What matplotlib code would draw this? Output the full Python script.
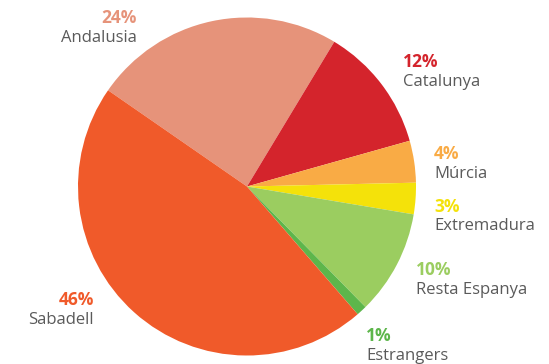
import matplotlib.pyplot as plt

# origin of respondents, clockwise from the top-left
regions = ['Andalusia', 'Catalunya', 'Múrcia', 'Extremadura',
           'Resta Espanya', 'Estrangers', 'Sabadell']
shares = [24, 12, 4, 3, 10, 1, 46]
colors = ['#E6937A', '#D4242C', '#F9AB45', '#F4E20A',
          '#9BCD60', '#5DB64B', '#F05A2A']

# label anchors in pixels (x, y of the percentage line), plus alignment
label_pos = [(137, 18, 'right'), (403, 62, 'left'), (434, 154, 'left'),
             (434, 207, 'left'), (416, 270, 'left'), (366, 336, 'left'),
             (94, 300, 'right')]

W, H = 549, 364
cx, cy, r = 247, 186.5, 169

plt.rcParams['font.family'] = ['Open Sans', 'DejaVu Sans']

fig = plt.figure(figsize=(W / 100, H / 100), dpi=100)
ax = fig.add_axes([0, 0, 1, 1])
ax.pie(shares, colors=colors, startangle=145.3, counterclock=False,
       radius=1, wedgeprops=dict(linewidth=0))
ax.set_xlim(-cx / r, (W - cx) / r)
ax.set_ylim(-(H - cy) / r, cy / r)
ax.set_aspect('equal')
ax.axis('off')

for name, val, col, (px, py, ha) in zip(regions, shares, colors, label_pos):
    fig.text(px / W, 1 - py / H, f'{val}%', color=col, fontsize=12.5,
             fontweight='bold', ha=ha, va='center')
    fig.text(px / W, 1 - (py + 19.5) / H, name, color='#5a5a5a',
             fontsize=12, ha=ha, va='center')

fig.savefig('out.png', dpi=100)
